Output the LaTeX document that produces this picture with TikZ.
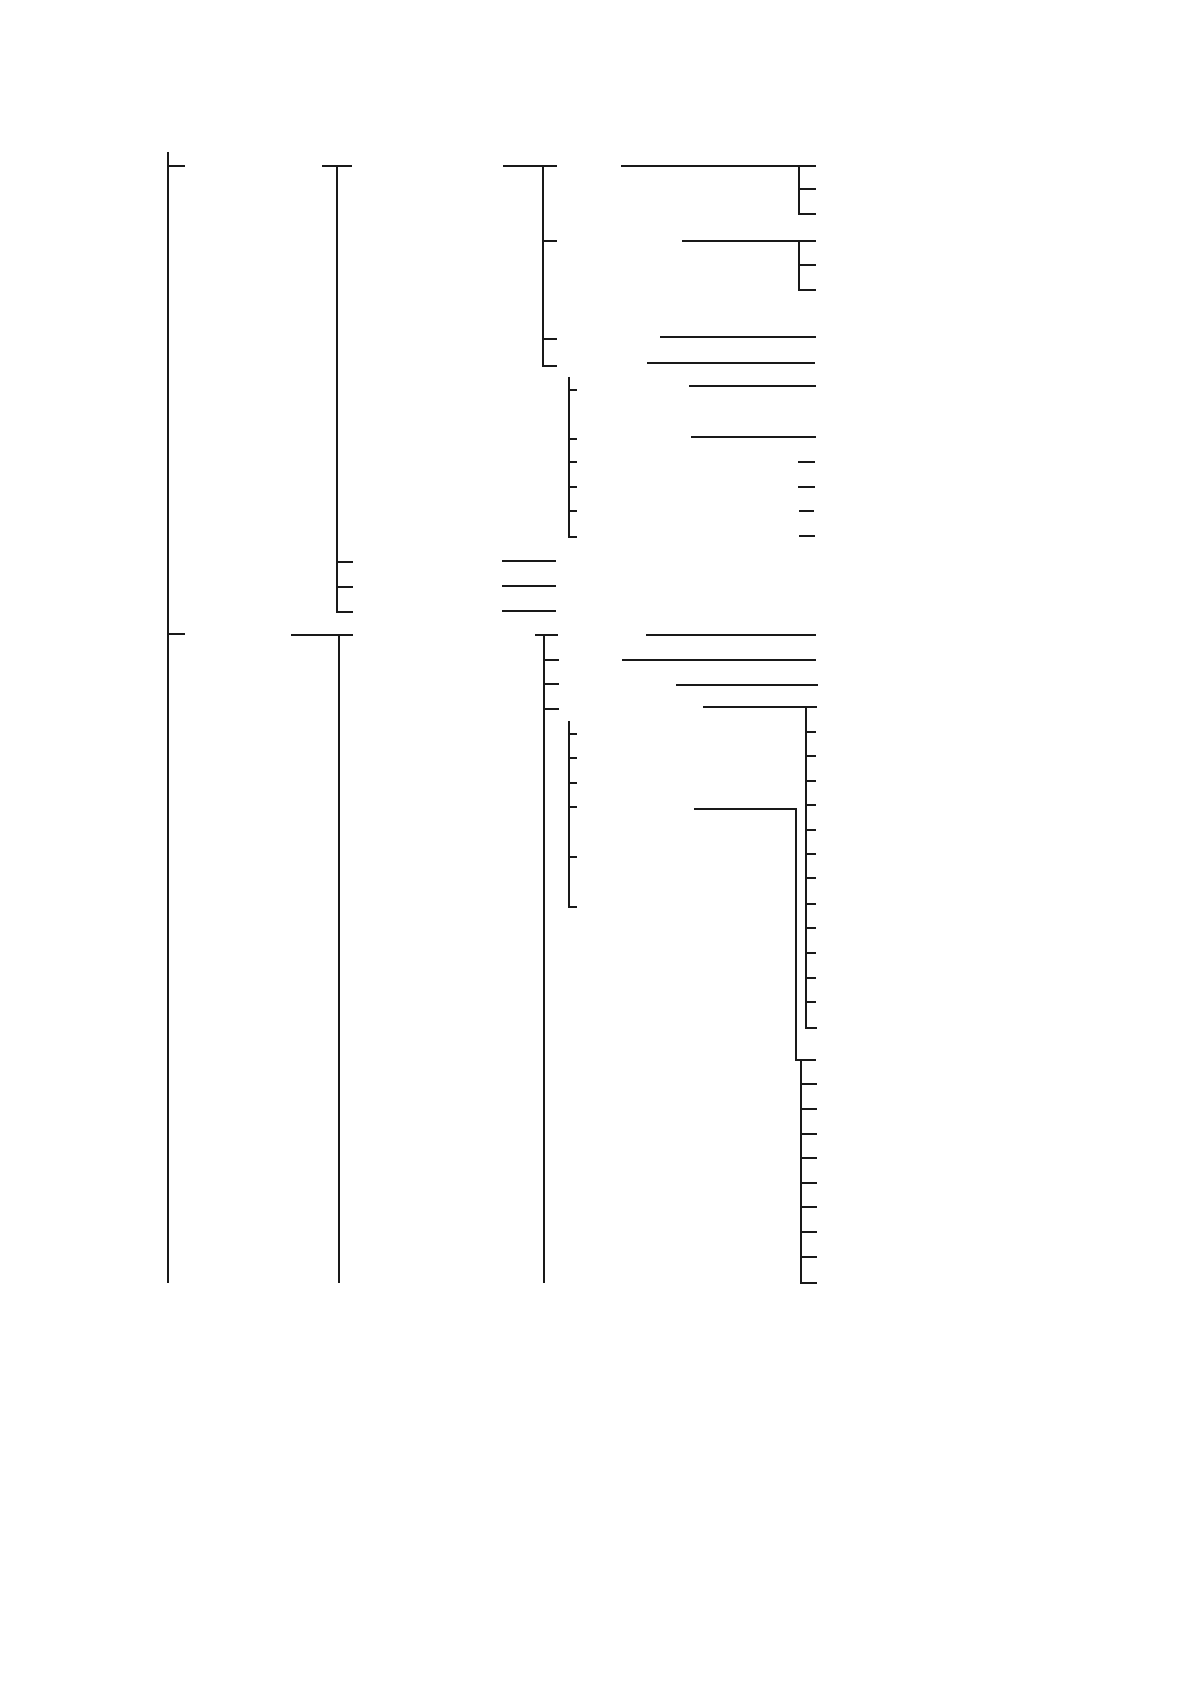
\documentclass[tikz,border=0pt]{standalone}
\begin{document}
\begin{tikzpicture}[x=0.5pt,y=-0.5pt,line width=0.6pt,
  rule/.style={draw,black!90}]
\useasboundingbox (0,0) rectangle (1190,1684);

% level 0
\coordinate (top) at (168,152);
\coordinate (bot) at (168,1283);
\coordinate (t1) at (185,166);
\coordinate (t2) at (185,634);
\path[rule] (top) -- (bot);
\path[rule] (top |- t1) -- (t1);
\path[rule] (top |- t2) -- (t2);

% level 1, upper branch
\coordinate (a) at (322,166);
\coordinate (a end) at (352,166);
\coordinate (a stem) at (337,166);
\coordinate (a foot) at (353,612);
\path[rule] (a) -- (a end);
\path[rule] (a stem) |- (a foot);
\foreach \y [count=\i] in {562,587} {
  \coordinate (ak\i) at (353,\y);
  \path[rule] (a stem |- ak\i) -- (ak\i);
}
\foreach \y [count=\i] in {561,586,611} {
  \coordinate (al\i) at (502,\y);
  \coordinate (ar\i) at (556,\y);
  \path[rule] (al\i) -- (ar\i);
}

% level 2, upper branch
\coordinate (b) at (503,166);
\coordinate (b end) at (557,166);
\coordinate (b stem) at (543,166);
\coordinate (b foot) at (557,366);
\path[rule] (b) -- (b end);
\path[rule] (b stem) |- (b foot);
\foreach \y [count=\i] in {241,339} {
  \coordinate (bk\i) at (557,\y);
  \path[rule] (b stem |- bk\i) -- (bk\i);
}

% level 3
\coordinate (c1) at (621,166);
\coordinate (c1 end) at (816,166);
\coordinate (c1 stem) at (799,166);
\coordinate (c1 foot) at (816,214);
\coordinate (c1 k) at (816,189);
\path[rule] (c1) -- (c1 end);
\path[rule] (c1 stem) |- (c1 foot);
\path[rule] (c1 stem |- c1 k) -- (c1 k);

\coordinate (c2) at (682,241);
\coordinate (c2 end) at (816,241);
\coordinate (c2 stem) at (799,241);
\coordinate (c2 foot) at (816,290);
\coordinate (c2 k) at (816,265);
\path[rule] (c2) -- (c2 end);
\path[rule] (c2 stem) |- (c2 foot);
\path[rule] (c2 stem |- c2 k) -- (c2 k);

\coordinate (c3) at (660,337);
\coordinate (c3 end) at (816,337);
\coordinate (c4) at (647,363);
\coordinate (c4 end) at (815,363);
\path[rule] (c3) -- (c3 end);
\path[rule] (c4) -- (c4 end);

% sub bracket, upper branch
\coordinate (d stem) at (569,377);
\coordinate (d foot) at (577,537);
\path[rule] (d stem) |- (d foot);
\foreach \y [count=\i] in {390,439,462,487,511} {
  \coordinate (dk\i) at (577,\y);
  \path[rule] (d stem |- dk\i) -- (dk\i);
}
\foreach \x/\y/\z [count=\i] in {689/386/816,691/437/816,798/462/815,798/487/815,799/511/814,799/536/815} {
  \coordinate (dl\i) at (\x,\y);
  \coordinate (dr\i) at (\z,\y);
  \path[rule] (dl\i) -- (dr\i);
}

% level 1, lower branch
\coordinate (e) at (291,635);
\coordinate (e end) at (353,635);
\coordinate (e stem) at (339,635);
\coordinate (e foot) at (339,1283);
\path[rule] (e) -- (e end);
\path[rule] (e stem) -- (e foot);

% level 2, lower branch
\coordinate (f) at (535,635);
\coordinate (f end) at (558,635);
\coordinate (f stem) at (544,635);
\coordinate (f foot) at (544,1283);
\path[rule] (f) -- (f end);
\path[rule] (f stem) -- (f foot);
\foreach \y [count=\i] in {660,684,709} {
  \coordinate (fk\i) at (559,\y);
  \path[rule] (f stem |- fk\i) -- (fk\i);
}
\foreach \x/\y/\z [count=\i] in {646/635/816,622/660/816,676/685/818,703/707/817} {
  \coordinate (fl\i) at (\x,\y);
  \coordinate (fr\i) at (\z,\y);
  \path[rule] (fl\i) -- (fr\i);
}

% long bracket
\coordinate (g stem) at (806,707);
\coordinate (g foot) at (817,1028);
\path[rule] (g stem) |- (g foot);
\foreach \y [count=\i] in {732,756,781,805,830,854,878,904,928,953,978,1002} {
  \coordinate (gk\i) at (816,\y);
  \path[rule] (g stem |- gk\i) -- (gk\i);
}

% sub bracket, lower branch
\coordinate (h stem) at (569,721);
\coordinate (h foot) at (577,907);
\path[rule] (h stem) |- (h foot);
\foreach \y [count=\i] in {734,758,783,807,857} {
  \coordinate (hk\i) at (577,\y);
  \path[rule] (h stem |- hk\i) -- (hk\i);
}

% elbow and last bracket
\coordinate (k) at (694,809);
\coordinate (k bend) at (796,809);
\coordinate (k turn) at (796,1060);
\coordinate (k end) at (816,1060);
\path[rule] (k) -- (k bend) -- (k turn) -- (k end);

\coordinate (m stem) at (801,1060);
\coordinate (m foot) at (817,1283);
\path[rule] (m stem) |- (m foot);
\foreach \y [count=\i] in {1084,1109,1134,1158,1183,1207,1232,1257} {
  \coordinate (mk\i) at (817,\y);
  \path[rule] (m stem |- mk\i) -- (mk\i);
}
\end{tikzpicture}
\end{document}
